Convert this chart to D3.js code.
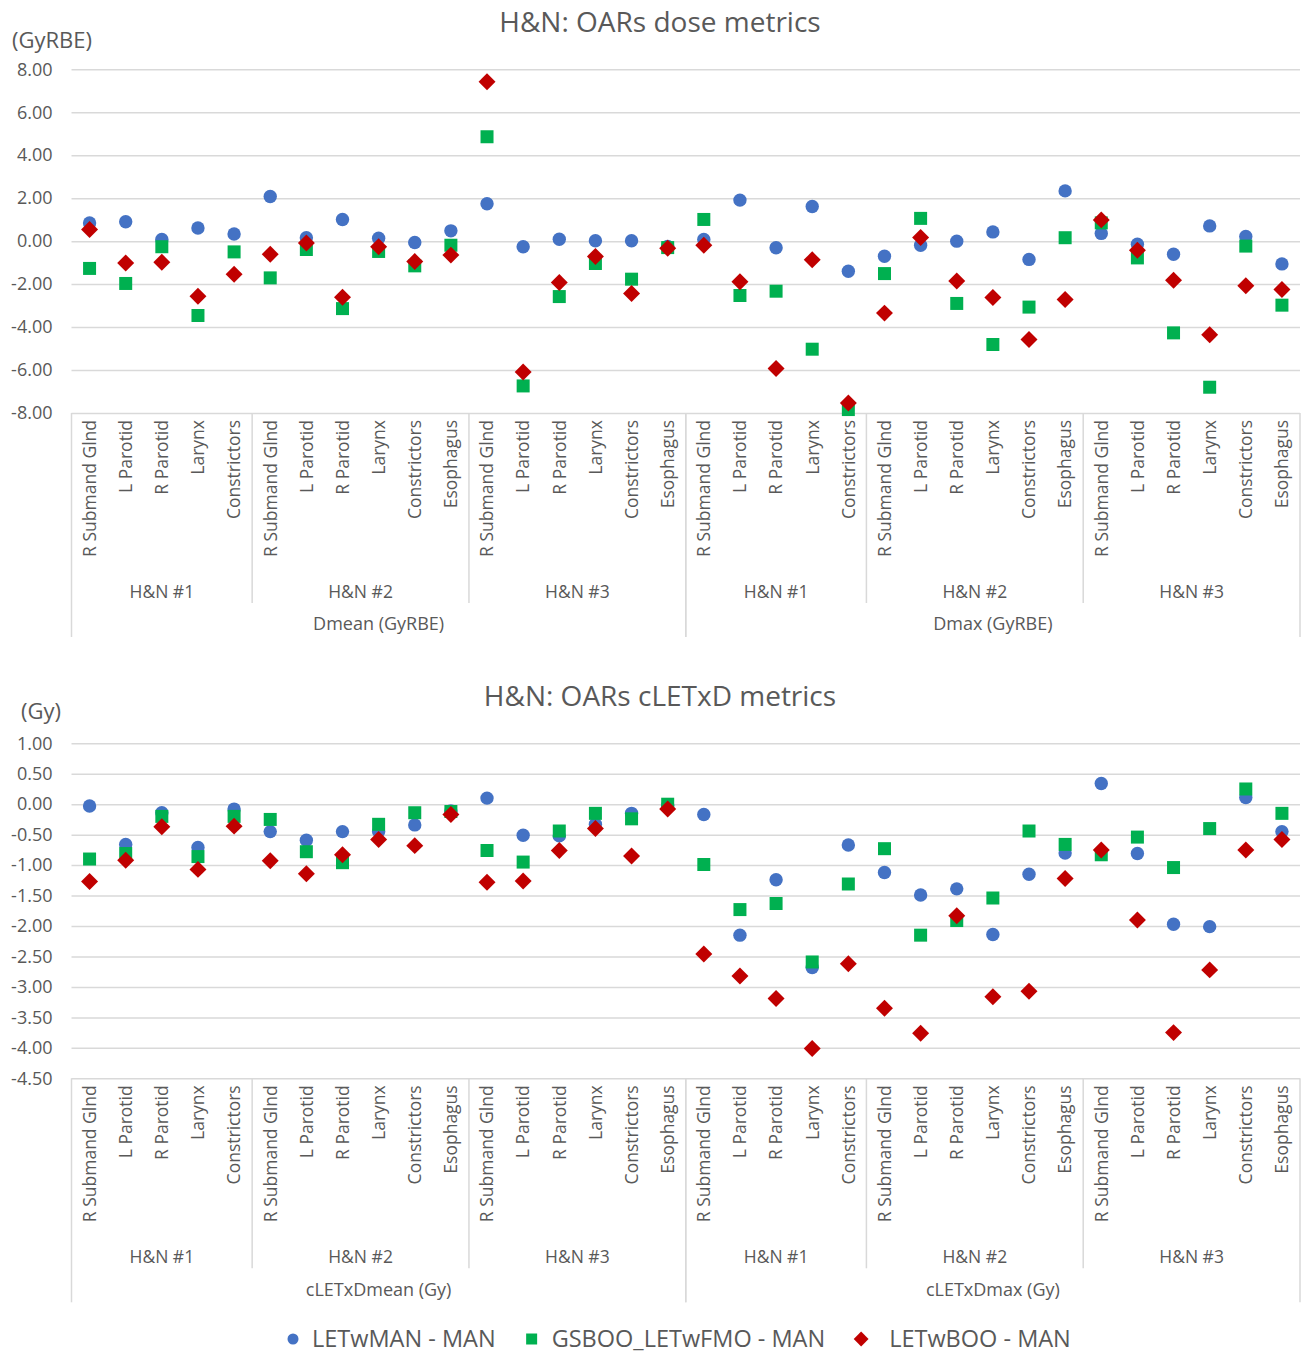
<!DOCTYPE html>
<html>
<head>
<meta charset="utf-8">
<script src="https://cdn.jsdelivr.net/npm/d3@7"></script>
<style>
  body { margin: 0; background: #fff; }
  text { font-family: "Open Sans", sans-serif; fill: #595959; }
</style>
</head>
<body>
<svg id="chart" width="1304" height="1353"></svg>
<script>
// ---- categories ----
const doseMetrics = ["Dmean (GyRBE)", "Dmax (GyRBE)"];
const letMetrics = ["cLETxDmean (Gy)", "cLETxDmax (Gy)"];
const patients = ["H&N #1", "H&N #2", "H&N #3"];
const organsByPatient = [
  ["R Submand Glnd", "L Parotid", "R Parotid", "Larynx", "Constrictors"],
  ["R Submand Glnd", "L Parotid", "R Parotid", "Larynx", "Constrictors", "Esophagus"],
  ["R Submand Glnd", "L Parotid", "R Parotid", "Larynx", "Constrictors", "Esophagus"]
];
const seriesNames = ["LETwMAN - MAN", "GSBOO_LETwFMO - MAN", "LETwBOO - MAN"];

// ---- dose differences (GyRBE) ----
const doseLETwMAN = [0.85, 0.90, 0.08, 0.61, 0.33, 2.08, 0.16, 1.01, 0.14, -0.06, 0.48, 1.74, -0.26, 0.09, 0.02, 0.02, -0.25,
                     0.08, 1.91, -0.31, 1.61, -1.40, -0.70, -0.19, 0.00, 0.43, -0.85, 2.34, 0.36, -0.14, -0.61, 0.71, 0.22, -1.06];
const doseGSBOO = [-1.27, -1.97, -0.26, -3.46, -0.50, -1.71, -0.39, -3.14, -0.48, -1.15, -0.19, 4.86, -6.74, -2.58, -1.04, -1.77, -0.30,
                   1.01, -2.53, -2.33, -5.03, -7.84, -1.51, 1.06, -2.90, -4.81, -3.07, 0.16, 0.85, -0.78, -4.27, -6.80, -0.23, -2.98];
const doseLETwBOO = [0.54, -1.02, -0.98, -2.56, -1.54, -0.61, -0.09, -2.61, -0.26, -0.95, -0.65, 7.42, -6.09, -1.93, -0.71, -2.44, -0.33,
                     -0.19, -1.89, -5.93, -0.87, -7.53, -3.35, 0.17, -1.86, -2.62, -4.58, -2.72, 0.99, -0.42, -1.82, -4.36, -2.08, -2.25];

// ---- cLETxD differences (Gy) ----
const letLETwMAN = [-0.03, -0.66, -0.14, -0.71, -0.08, -0.45, -0.59, -0.45, -0.45, -0.34, -0.11, 0.10, -0.51, -0.52, -0.33, -0.15, -0.02,
                    -0.17, -2.15, -1.24, -2.68, -0.67, -1.12, -1.49, -1.39, -2.14, -1.15, -0.80, 0.34, -0.81, -1.97, -2.01, 0.11, -0.45];
const letGSBOO = [-0.90, -0.81, -0.20, -0.86, -0.20, -0.25, -0.78, -0.96, -0.33, -0.14, -0.12, -0.76, -0.95, -0.44, -0.15, -0.24, 0.00,
                  -0.99, -1.73, -1.63, -2.59, -1.31, -0.73, -2.15, -1.91, -1.54, -0.44, -0.66, -0.83, -0.54, -1.04, -0.40, 0.25, -0.15];
const letLETwBOO = [-1.27, -0.92, -0.37, -1.07, -0.36, -0.93, -1.14, -0.83, -0.58, -0.68, -0.17, -1.28, -1.26, -0.76, -0.40, -0.85, -0.08,
                    -2.46, -2.82, -3.19, -4.01, -2.62, -3.35, -3.76, -1.83, -3.16, -3.07, -1.22, -0.75, -1.90, -3.75, -2.72, -0.75, -0.58];

// ---- value-axis ticks ----
const doseTicks = [8, 6, 4, 2, 0, -2, -4, -6, -8];
const letTicks = [1, 0.5, 0, -0.5, -1, -1.5, -2, -2.5, -3, -3.5, -4, -4.5];

// ---- styling ----
const colors = ["#4472C4", "#00B050", "#C00000"];
const gridColor = "#D9D9D9";
const plotLeft = 71.5, plotRight = 1300;
const fmt = d3.formatLocale({ decimal: ".", thousands: ",", grouping: [3], currency: ["", ""], minus: "-" }).format(".2f");

// flat list of category keys: metric | patient | organ
function buildCategories(metrics) {
  const cats = [];
  metrics.forEach((m, mi) => patients.forEach((p, pi) =>
    organsByPatient[pi].forEach(o => cats.push({ key: `${mi}|${pi}|${o}`, metric: m, mi, patient: p, pi, organ: o }))));
  return cats;
}

const svg = d3.select("#chart");

const symbolPaths = [
  d3.symbol().type(d3.symbolCircle).size(Math.PI * 6.7 * 6.7)(),
  d3.symbol().type(d3.symbolSquare).size(13 * 13)(),
  d3.symbol().type(d3.symbolSquare).size(12 * 12)()
];
const symbolRotate = [0, 0, 45];

function drawPanel(cfg) {
  const cats = buildCategories(cfg.metrics);
  const x = d3.scaleBand().domain(cats.map(c => c.key)).range([plotLeft, plotRight]);
  const y = d3.scaleLinear().domain(cfg.domain).range(cfg.yRange);
  const g = svg.append("g");
  const axisY = cfg.yRange[0];

  // title and unit
  g.append("text").attr("x", 660).attr("y", cfg.titleY).attr("text-anchor", "middle")
    .style("font-size", "28px").text(cfg.title);
  g.append("text").attr("x", cfg.unitX).attr("y", cfg.unitY)
    .style("font-size", "22px").text(cfg.unit);

  // value axis with gridlines
  const ya = g.append("g").attr("transform", `translate(${plotLeft},0)`)
    .call(d3.axisLeft(y).tickValues(cfg.ticks).tickFormat(fmt)
      .tickSizeInner(-(plotRight - plotLeft)).tickSizeOuter(0).tickPadding(19));
  ya.select(".domain").remove();
  ya.selectAll(".tick line").attr("stroke", gridColor).attr("stroke-width", 1.5);
  ya.selectAll(".tick text").attr("fill", "#595959").style("font-size", "18px")
    .style("font-family", '"Open Sans", sans-serif');

  // category axis: rotated organ labels
  const xa = g.append("g").attr("transform", `translate(0,${axisY})`)
    .call(d3.axisBottom(x).tickSize(0).tickFormat(k => cats.find(c => c.key === k).organ));
  xa.select(".domain").remove();
  xa.selectAll(".tick text")
    .attr("transform", "rotate(-90)")
    .attr("text-anchor", "end")
    .attr("x", -7).attr("y", 0).attr("dy", "0.36em")
    .attr("fill", "#595959").style("font-size", "17.5px")
    .style("font-family", '"Open Sans", sans-serif');

  // patient groups and metric groups
  const groups = d3.groups(cats, c => c.mi, c => c.pi);
  groups.forEach(([mi, pgroups]) => {
    const mCats = cats.filter(c => c.mi === mi);
    const mx0 = x(mCats[0].key), mx1 = x(mCats[mCats.length - 1].key) + x.bandwidth();
    pgroups.forEach(([pi, pc]) => {
      const gx0 = x(pc[0].key), gx1 = x(pc[pc.length - 1].key) + x.bandwidth();
      if (gx1 < mx1) {
        g.append("line").attr("x1", gx1).attr("x2", gx1).attr("y1", axisY).attr("y2", axisY + 190)
          .attr("stroke", gridColor).attr("stroke-width", 1.5);
      }
      g.append("text").attr("x", (gx0 + gx1) / 2).attr("y", axisY + 179).attr("dy", "0.35em")
        .attr("text-anchor", "middle").style("font-size", "17.5px").text(patients[pi]);
    });
    g.append("text").attr("x", (mx0 + mx1) / 2).attr("y", axisY + 211).attr("dy", "0.35em")
      .attr("text-anchor", "middle").style("font-size", "18px").text(cfg.metrics[mi]);
    [mx0, mx1].forEach(xx => g.append("line").attr("x1", xx).attr("x2", xx)
      .attr("y1", axisY).attr("y2", axisY + 224).attr("stroke", gridColor).attr("stroke-width", 1.5));
  });

  // markers: blue circles, green squares, red diamonds (red drawn last)
  cfg.series.forEach((vals, si) => {
    g.append("g").selectAll("path").data(vals).join("path")
      .attr("d", symbolPaths[si])
      .attr("transform", (v, i) => `translate(${x(cats[i].key) + x.bandwidth() / 2},${y(v)}) rotate(${symbolRotate[si]})`)
      .attr("fill", colors[si]);
  });
}

drawPanel({
  title: "H&N: OARs dose metrics", titleY: 32,
  unit: "(GyRBE)", unitX: 12, unitY: 48,
  metrics: doseMetrics, domain: [-8, 8], yRange: [413, 69.3], ticks: doseTicks,
  series: [doseLETwMAN, doseGSBOO, doseLETwBOO]
});

drawPanel({
  title: "H&N: OARs cLETxD metrics", titleY: 706,
  unit: "(Gy)", unitX: 21, unitY: 719,
  metrics: letMetrics, domain: [-4.5, 1], yRange: [1078.3, 743.3], ticks: letTicks,
  series: [letLETwMAN, letGSBOO, letLETwBOO]
});

// legend
const legend = svg.append("g").attr("transform", "translate(0,1339)");
const legendSymbols = [
  d3.symbol().type(d3.symbolCircle).size(Math.PI * 5.5 * 5.5)(),
  d3.symbol().type(d3.symbolSquare).size(11 * 11)(),
  d3.symbol().type(d3.symbolSquare).size(10.5 * 10.5)()
];
const textOffset = [19, 20, 28];
let lx = 293;
seriesNames.forEach((name, i) => {
  legend.append("path").attr("d", legendSymbols[i])
    .attr("transform", `translate(${lx},0) rotate(${symbolRotate[i]})`).attr("fill", colors[i]);
  const t = legend.append("text").attr("x", lx + textOffset[i]).attr("y", 0).attr("dy", "0.35em")
    .style("font-size", "23.5px").text(name);
  lx = lx + textOffset[i] + t.node().getComputedTextLength() + 36;
});
</script>
</body>
</html>
